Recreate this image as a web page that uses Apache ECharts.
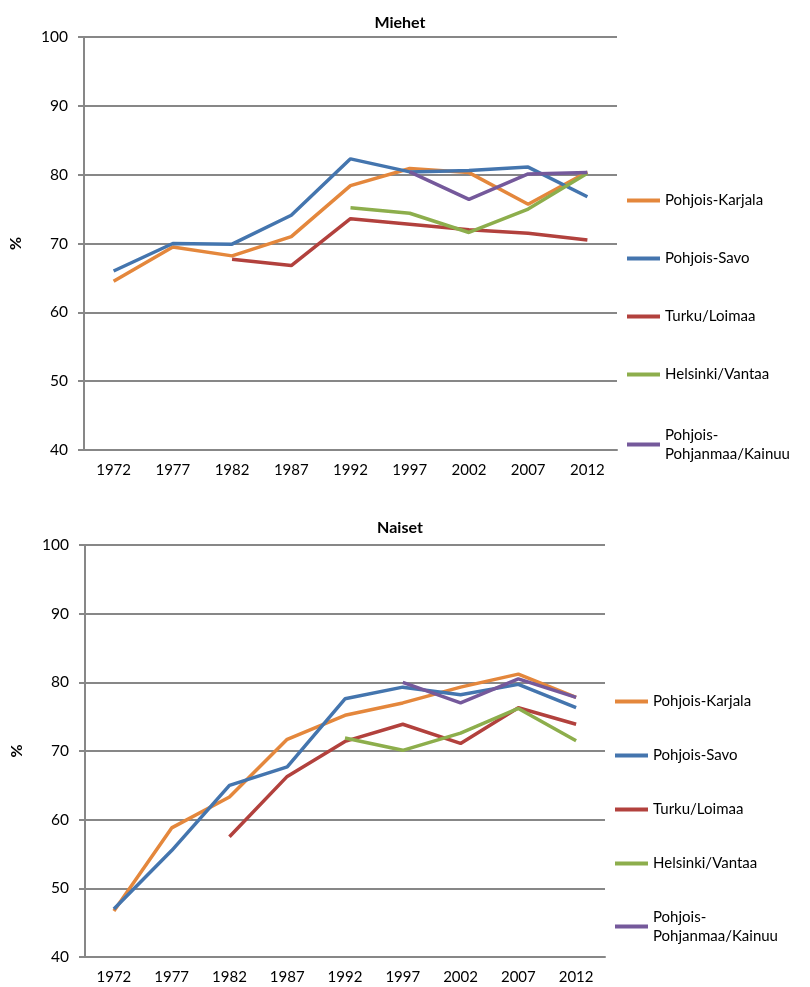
<!DOCTYPE html>
<html>
<head>
<meta charset="utf-8">
<title>Miehet / Naiset</title>
<script src="https://cdn.jsdelivr.net/npm/echarts@6/dist/echarts.min.js"></script>
<style>
    html, body { margin: 0; padding: 0; background: #fff; }
    #chart { width: 810px; height: 987px; }
</style>
</head>
<body>
<div id="chart"></div>
<script>
// vuodet
var years = ['1972', '1977', '1982', '1987', '1992', '1997', '2002', '2007', '2012'];
var regions = ['Pohjois-Karjala', 'Pohjois-Savo', 'Turku/Loimaa', 'Helsinki/Vantaa', 'Pohjois-Pohjanmaa/Kainuu'];
var colors = ['#E4873C', '#4475AE', '#B2413D', '#8DAE4C', '#75599B'];

// Miehet, %
var mKarjala = [64.5, 69.5, 68.2, 71.0, 78.4, 80.9, 80.3, 75.7, 80.4];
var mSavo = [66.0, 70.0, 69.9, 74.1, 82.3, 80.4, 80.6, 81.1, 76.8];
var mTurku = [null, null, 67.7, 66.8, 73.6, 72.8, 72.0, 71.5, 70.5];
var mHelsinki = [null, null, null, null, 75.2, 74.4, 71.6, 75.0, 80.2];
var mPohjanmaa = [null, null, null, null, null, 80.4, 76.4, 80.1, 80.3];

// Naiset, %
var nKarjala = [46.7, 58.8, 63.3, 71.7, 75.2, 77.0, 79.3, 81.2, 77.8];
var nSavo = [47.0, 55.5, 65.0, 67.7, 77.6, 79.3, 78.2, 79.7, 76.3];
var nTurku = [null, null, 57.5, 66.3, 71.4, 73.9, 71.1, 76.3, 73.9];
var nHelsinki = [null, null, null, null, 71.9, 70.1, 72.6, 76.2, 71.5];
var nPohjanmaa = [null, null, null, null, null, 80.0, 77.0, 80.5, 77.8];

var yTicks = { min: 40, max: 100, interval: 10 };

var font = 'Lato, "Liberation Sans", sans-serif';
var gray = '#878787';

var chart = echarts.init(document.getElementById('chart'));
chart.setOption(buildOption());

function xAxisFor(idx) {
    return {
        type: 'category',
        gridIndex: idx,
        data: years,
        axisLine: { lineStyle: { color: gray, width: 2 } },
        axisTick: { length: 5, lineStyle: { color: gray, width: 2 } },
        axisLabel: { color: '#000', fontSize: 15, fontFamily: font, margin: 13 }
    };
}

function yAxisFor(idx) {
    return {
        type: 'value',
        gridIndex: idx,
        min: yTicks.min,
        max: yTicks.max,
        interval: yTicks.interval,
        name: '%',
        nameLocation: 'middle',
        nameRotate: 90,
        nameGap: 60,
        nameTextStyle: { color: '#000', fontSize: 16, fontWeight: 'bold', fontFamily: font },
        axisLine: { show: true, lineStyle: { color: gray, width: 2 } },
        axisTick: { show: true, length: 6, lineStyle: { color: gray, width: 2 } },
        axisLabel: { color: '#000', fontSize: 15.5, fontFamily: font, margin: 16 },
        splitLine: { lineStyle: { color: gray, width: 2 } }
    };
}

function lineSeries(name, data, idx, color) {
    return {
        name: name,
        type: 'line',
        xAxisIndex: idx,
        yAxisIndex: idx,
        data: data,
        symbol: 'none',
        connectNulls: false,
        lineStyle: { color: color, width: 3.5 },
        itemStyle: { color: color },
        animation: false
    };
}

function legendFor(top, left, gap, names, extra) {
    return {
        orient: 'vertical',
        top: top,
        left: left,
        itemGap: gap,
        itemWidth: 33,
        itemHeight: 4,
        icon: 'rect',
        selectedMode: false,
        data: names.map(function (n) {
            var item = { name: n, icon: 'rect' };
            if (extra) {
                item.textStyle = extra;
            }
            return item;
        }),
        formatter: function (name) {
            return name === 'Pohjois-Pohjanmaa/Kainuu' ? 'Pohjois-\nPohjanmaa/Kainuu' : name;
        },
        textStyle: { color: '#000', fontSize: 15, fontFamily: font, lineHeight: 19 }
    };
}

function buildOption() {
    var series = [];
    var men = [mKarjala, mSavo, mTurku, mHelsinki, mPohjanmaa];
    var women = [nKarjala, nSavo, nTurku, nHelsinki, nPohjanmaa];
    for (var i = 0; i < regions.length; i++) {
        series.push(lineSeries(regions[i], men[i], 0, colors[i]));
    }
    for (var j = 0; j < regions.length; j++) {
        series.push(lineSeries(regions[j], women[j], 1, colors[j]));
    }
    var twoLine = { color: '#000', fontSize: 15, fontFamily: font, lineHeight: 19, padding: [19, 0, 0, 0] };

    return {
        backgroundColor: '#fff',
        color: colors,
        animation: false,
        title: [{
            text: 'Miehet',
            left: 395,
            top: 10,
            textAlign: 'center',
            textStyle: { color: '#000', fontSize: 16, fontWeight: 'bold', fontFamily: font }
        }, {
            text: 'Naiset',
            left: 395,
            top: 515,
            textAlign: 'center',
            textStyle: { color: '#000', fontSize: 16, fontWeight: 'bold', fontFamily: font }
        }],
        legend: [
            legendFor(186, 622, 39, regions.slice(0, 4)),
            legendFor(411, 622, 0, regions.slice(4), twoLine),
            legendFor(687, 610, 35, regions.slice(0, 4)),
            legendFor(893, 610, 0, regions.slice(4), twoLine)
        ],
        grid: [
            { left: 83, right: 193, top: 37, height: 413 },
            { left: 85, right: 205, top: 545, height: 412 }
        ],
        xAxis: [xAxisFor(0), xAxisFor(1)],
        yAxis: [yAxisFor(0), yAxisFor(1)],
        series: series
    };
}
</script>
</body>
</html>
